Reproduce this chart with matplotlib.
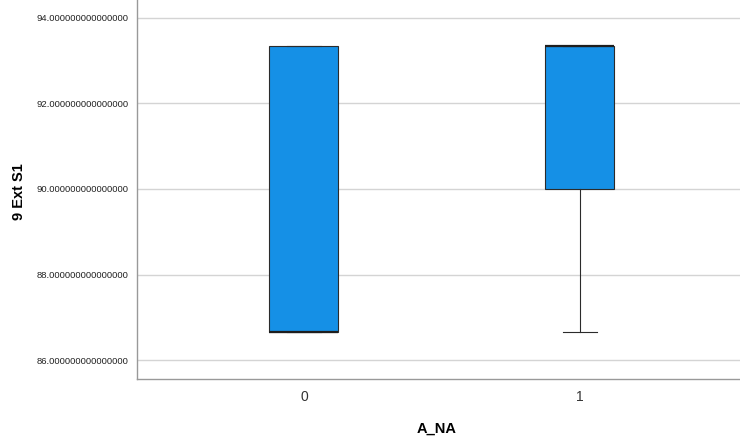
import matplotlib
matplotlib.use("Agg")
import matplotlib.pyplot as plt

plt.rcParams["font.family"] = ["Liberation Sans", "DejaVu Sans"]

# box summary per group of A_NA
groups = ["0", "1"]
q1 = [86.6666666667, 90.0]
med = [86.6666666667, 93.3333333333]
q3 = [93.3333333333, 93.3333333333]
whislo = [86.6666666667, 86.6666666667]
whishi = [93.3333333333, 93.3333333333]
yticks = [86, 88, 90, 92, 94]

stats = [dict(label=g, q1=a, med=m, q3=b, whislo=lo, whishi=hi, fliers=[])
         for g, a, m, b, lo, hi in zip(groups, q1, med, q3, whislo, whishi)]

fig = plt.figure(figsize=(7.4, 4.36), dpi=100)
ax = fig.add_axes([137 / 740, 57 / 436, 1 - 137 / 740, 1 - 57 / 436])

ax.bxp(stats, positions=range(len(groups)), widths=0.25, patch_artist=True,
       boxprops=dict(facecolor="#1590e6", edgecolor="#2b2b2b", linewidth=0.8),
       medianprops=dict(color="#1e1e1e", linewidth=1.6),
       whiskerprops=dict(color="#2b2b2b", linewidth=0.8),
       capprops=dict(color="#2b2b2b", linewidth=0.8), capwidths=0.125)

ax.set_xlim(-0.605, 1.58)
ax.set_ylim(85.556, 94.42)
ax.set_yticks(yticks)
ax.set_yticklabels([f"{v:.15f}" for v in yticks], fontsize=6.8, color="#222222")
ax.set_xticks(range(len(groups)))
ax.set_xticklabels(groups, fontsize=10, color="#333333")
ax.tick_params(length=0, pad=8)
ax.tick_params(axis="y", pad=6)
ax.yaxis.grid(True, color="#d4d4d4", linewidth=1)
ax.set_axisbelow(True)
for s in ("top", "right"):
    ax.spines[s].set_visible(False)
for s in ("left", "bottom"):
    ax.spines[s].set_color("#999999")
    ax.spines[s].set_linewidth(1)

ax.set_xlabel("A_NA", fontsize=10.5, fontweight="bold")
ax.set_ylabel("9 Ext S1", fontsize=10.5, fontweight="bold")
ax.xaxis.set_label_coords((437 - 137) / 603, -(422 - 379) / 379)
ax.yaxis.set_label_coords((26 - 137) / 603, (379 - 192) / 379)

fig.savefig("out.png", dpi=100)
